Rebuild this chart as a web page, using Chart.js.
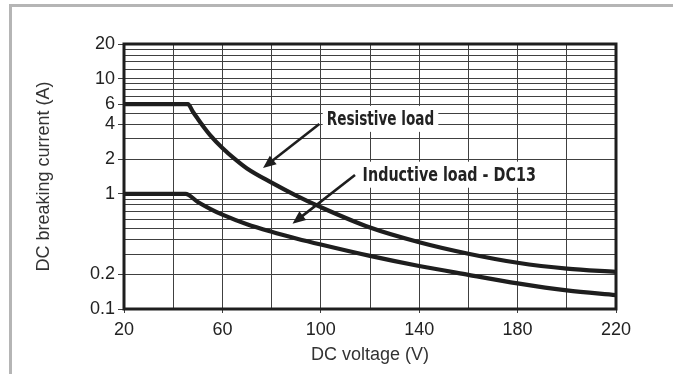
<!DOCTYPE html>
<html><head><meta charset="utf-8">
<script src="https://cdn.jsdelivr.net/npm/chart.js@4"></script>
<style>
html,body{margin:0;padding:0;background:#fff;}
#wrap{position:relative;width:673px;height:374px;overflow:hidden;}
#frame{position:absolute;left:9px;top:4px;width:700px;height:400px;border-top:3px solid #b5b5b5;border-left:3px solid #b5b5b5;pointer-events:none;}
canvas{position:absolute;left:0;top:0;}
</style></head><body>
<div id="wrap"><canvas id="c" width="673" height="374"></canvas><div id="frame"></div></div>
<script>
// ---- data ----
const resistiveVoltage = [20, 46, 48, 50, 52, 55, 60, 65, 70, 80, 90, 100, 120, 140, 160, 180, 200, 220];
const resistiveCurrent = [6, 6, 5.16, 4.48, 3.91, 3.24, 2.5, 2.01, 1.66, 1.25, 0.965, 0.766, 0.51, 0.38, 0.302, 0.252, 0.224, 0.21];
const inductiveVoltage = [20, 45, 50, 55, 60, 70, 80, 90, 100, 120, 140, 160, 180, 200, 220];
const inductiveCurrent = [1, 1, 0.849, 0.741, 0.659, 0.544, 0.468, 0.41, 0.363, 0.289, 0.236, 0.198, 0.167, 0.145, 0.132];
const xTickLabels = [20, 60, 100, 140, 180, 220];
const yTickLabels = [0.1, 0.2, 1, 2, 4, 6, 10, 20];
const yGridValues = [0.1, 0.2, 0.3, 0.4, 0.5, 0.6, 0.7, 0.8, 0.9, 1, 2, 3, 4, 5, 6, 7, 8, 9, 10, 12, 14, 16, 18, 20];
const annotationLabels = ['Resistive load', 'Inductive load - DC13'];
const annotationVoltage = [102.4, 117];
const annotationCurrent = [3.97, 1.30];
const arrowFromVoltage = [99.4, 113.9];
const arrowFromCurrent = [4.04, 1.457];
const arrowToVoltage = [76.5, 88.5];
const arrowToCurrent = [1.677, 0.551];

// ---- styles ----
const INK = '#1e1e1e';
const textWidths = [107.6, 173.3];
const FONT = '"Liberation Sans", Arial, sans-serif';

function pts(xs, ys){ return xs.map((x,i)=>({x:x, y:ys[i]})); }

const borderPlugin = {
  id: 'areaBorder',
  afterDraw(chart){
    const {ctx, chartArea:a} = chart;
    ctx.save();
    ctx.strokeStyle = INK; ctx.lineWidth = 3;
    ctx.strokeRect(a.left, a.top, a.right - a.left, a.bottom - a.top);
    ctx.restore();
  }
};

const annotationPlugin = {
  id: 'notes',
  afterDatasetsDraw(chart){
    const {ctx, scales:{x, y}} = chart;
    ctx.save();
    annotationLabels.forEach((label, i) => {
      const px = x.getPixelForValue(annotationVoltage[i]);
      const py = y.getPixelForValue(annotationCurrent[i]);
      ctx.font = 'bold 19px "DejaVu Sans"';
      const w = ctx.measureText(label).width;
      const sx = textWidths[i] / w;
      ctx.fillStyle = '#fff';
      ctx.fillRect(px - 4, py - 19, textWidths[i] + 8, 26);
      ctx.save();
      ctx.translate(px, py);
      ctx.scale(sx, 1);
      ctx.fillStyle = '#222';
      ctx.textBaseline = 'alphabetic';
      ctx.textAlign = 'left';
      ctx.fillText(label, 0, 0);
      ctx.restore();
      // arrow
      const x0 = x.getPixelForValue(arrowFromVoltage[i]);
      const y0 = y.getPixelForValue(arrowFromCurrent[i]);
      const x1 = x.getPixelForValue(arrowToVoltage[i]);
      const y1 = y.getPixelForValue(arrowToCurrent[i]);
      const ang = Math.atan2(y1 - y0, x1 - x0);
      const hl = 13, hw = 5.5;
      const bx = x1 - hl * Math.cos(ang), by = y1 - hl * Math.sin(ang);
      ctx.strokeStyle = INK; ctx.lineWidth = 2.6; ctx.lineCap = 'butt';
      ctx.beginPath(); ctx.moveTo(x0, y0); ctx.lineTo(bx + 2*Math.cos(ang), by + 2*Math.sin(ang)); ctx.stroke();
      ctx.fillStyle = INK;
      ctx.beginPath();
      ctx.moveTo(x1, y1);
      ctx.lineTo(bx + hw * Math.sin(ang), by - hw * Math.cos(ang));
      ctx.lineTo(bx - hw * Math.sin(ang), by + hw * Math.cos(ang));
      ctx.closePath(); ctx.fill();
    });
    ctx.restore();
  }
};

new Chart(document.getElementById('c'), {
  type: 'line',
  data: {
    datasets: [
      { label: 'Resistive load', data: pts(resistiveVoltage, resistiveCurrent), borderColor: INK, borderWidth: 4.2, pointRadius: 0, cubicInterpolationMode: 'monotone', fill: false },
      { label: 'Inductive load - DC13', data: pts(inductiveVoltage, inductiveCurrent), borderColor: INK, borderWidth: 4.2, pointRadius: 0, cubicInterpolationMode: 'monotone', fill: false }
    ]
  },
  options: {
    responsive: false,
    animation: false,
    layout: { padding: { left: 29, top: 44, right: 57, bottom: 4 } },
    plugins: { legend: { display: false }, tooltip: { enabled: false } },
    scales: {
      x: {
        type: 'linear', min: 20, max: 220,
        afterFit(s){ s.height = 61; },
        ticks: { stepSize: 20, autoSkip: false, maxRotation: 0, padding: 6, color: '#222',
          font: { family: FONT, size: 18 },
          callback: v => xTickLabels.includes(v) ? String(v) : '' },
        grid: { color: '#404040', lineWidth: 1, tickLength: 4,
          tickColor: c => (c.tick && xTickLabels.includes(c.tick.value)) ? '#404040' : 'rgba(0,0,0,0)' },
        border: { display: false },
        title: { display: true, text: 'DC voltage (V)', color: '#333', padding: { top: 4, bottom: 4 },
          font: { family: FONT, size: 18 } }
      },
      y: {
        type: 'logarithmic', min: 0.1, max: 20,
        afterFit(s){ s.width = 95; },
        afterBuildTicks(s){ s.ticks = yGridValues.map(v => ({ value: v })); },
        ticks: { autoSkip: false, padding: 3, color: '#222',
          font: { family: FONT, size: 18 },
          callback: v => yTickLabels.includes(v) ? String(v) : '' },
        grid: { color: '#404040', lineWidth: 1, tickLength: 6,
          tickColor: c => (c.tick && yTickLabels.includes(c.tick.value)) ? '#404040' : 'rgba(0,0,0,0)' },
        border: { display: false },
        title: { display: true, text: 'DC breaking current (A)', color: '#333', padding: { top: 4, bottom: 4 },
          font: { family: FONT, size: 18 } }
      }
    }
  },
  plugins: [borderPlugin, annotationPlugin]
});
</script>
</body></html>
